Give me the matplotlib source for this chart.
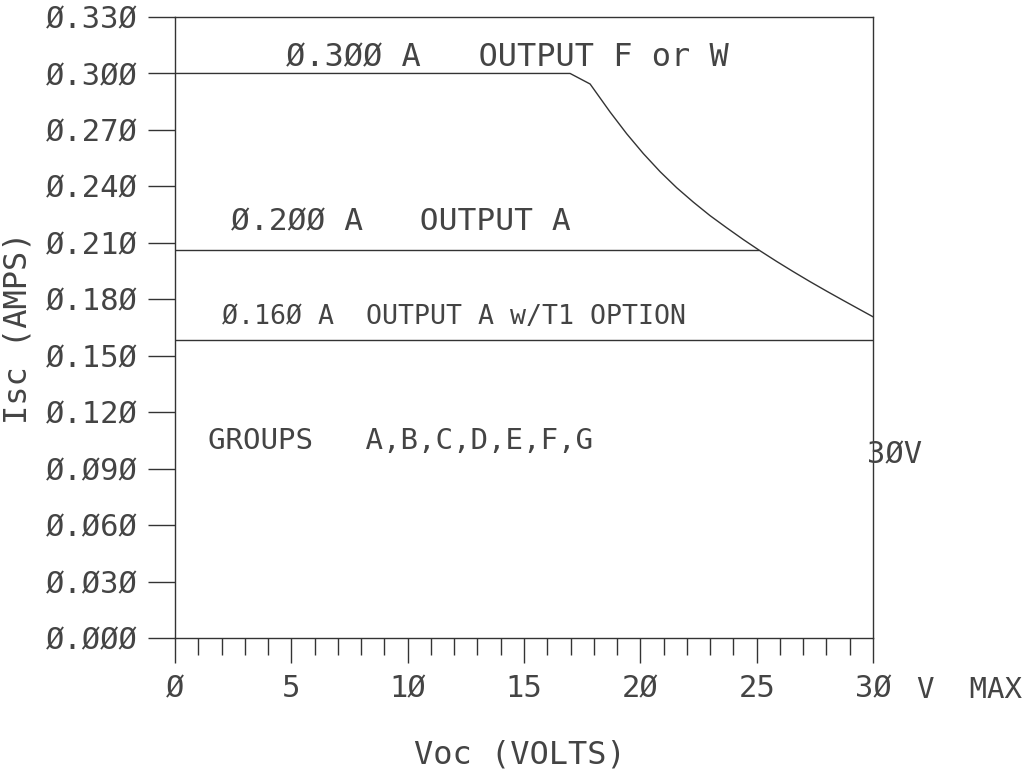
import matplotlib
matplotlib.use('Agg')
import matplotlib.pyplot as plt
from matplotlib.ticker import MultipleLocator, FuncFormatter

# Isc x Voc
voc_f = [0, 16.98, 17.84, 18.70, 19.41, 20.13, 20.85, 21.56, 22.28, 22.99, 23.71, 24.43,
         25.14, 25.86, 26.57, 27.29, 28.01, 28.72, 29.44, 30.0]
isc_f = [0.300, 0.300, 0.2944, 0.2795, 0.2680, 0.2574, 0.2478, 0.2393, 0.2316, 0.2245, 0.2180, 0.2117,
         0.2058, 0.2001, 0.1947, 0.1894, 0.1843, 0.1794, 0.1745, 0.1707]
voc_a = [0, 25.06]
isc_a = [0.2062, 0.2062]
voc_t1 = [0, 30.0]
isc_t1 = [0.1585, 0.1585]

rotulos = ['Ø.3ØØ A   OUTPUT F or W', 'Ø.2ØØ A   OUTPUT A', 'Ø.16Ø A  OUTPUT A w/T1 OPTION', 'GROUPS   A,B,C,D,E,F,G']
rot_x = [4.75, 2.4, 2.0, 1.42]
rot_y = [0.3085, 0.2209, 0.1706, 0.1045]
rot_tam = [23, 22.5, 19.2, 21]

cor = '#333333'
cor_txt = '#444444'
plt.rcParams['font.family'] = 'DejaVu Sans Mono'

fig = plt.figure(figsize=(10.26, 7.73), dpi=100)
ax = fig.add_axes([0.1706, 0.1746, 0.6803, 0.8034])

ax.plot(voc_f, isc_f, color=cor, lw=1.0)
ax.plot(voc_a, isc_a, color=cor, lw=1.0)
ax.plot(voc_t1, isc_t1, color=cor, lw=1.0)

for t, x, y, s in zip(rotulos, rot_x, rot_y, rot_tam):
    ax.text(x, y, t, fontsize=s, color=cor_txt, va='center', ha='left')

ax.set_xlim(0, 30)
ax.set_ylim(0, 0.33)
ax.xaxis.set_major_locator(MultipleLocator(5))
ax.xaxis.set_minor_locator(MultipleLocator(1))
ax.yaxis.set_major_locator(MultipleLocator(0.03))

ax.xaxis.set_major_formatter(FuncFormatter(lambda v, p: ('%d' % round(v)).replace('0', 'Ø')))
ax.yaxis.set_major_formatter(FuncFormatter(lambda v, p: ('%.3f' % v).replace('0', 'Ø')))

ax.tick_params(axis='x', which='major', direction='out', length=18, width=1, color=cor, labelsize=22, pad=8, labelcolor=cor_txt)
ax.tick_params(axis='x', which='minor', direction='out', length=12, width=1, color=cor)
ax.tick_params(axis='y', which='major', direction='out', length=19.5, width=1, color=cor, labelsize=22, pad=7, labelcolor=cor_txt)

for s in ax.spines.values():
    s.set_color(cor)
    s.set_linewidth(1.0)

ax.text(31.89, -0.0276, 'V  MAX', fontsize=21, color=cor_txt, va='center', ha='left')
ax.text(29.74, 0.0972, '3ØV', fontsize=22, color=cor_txt, va='center', ha='left')

ax.set_xlabel('Voc (VOLTS)', fontsize=23, color=cor_txt)
ax.xaxis.set_label_coords(0.494, -0.164)
ax.set_ylabel('Isc (AMPS)', fontsize=23, color=cor_txt)
ax.yaxis.set_label_coords(-0.2034, 0.499)

fig.savefig('out.png', dpi=100)
